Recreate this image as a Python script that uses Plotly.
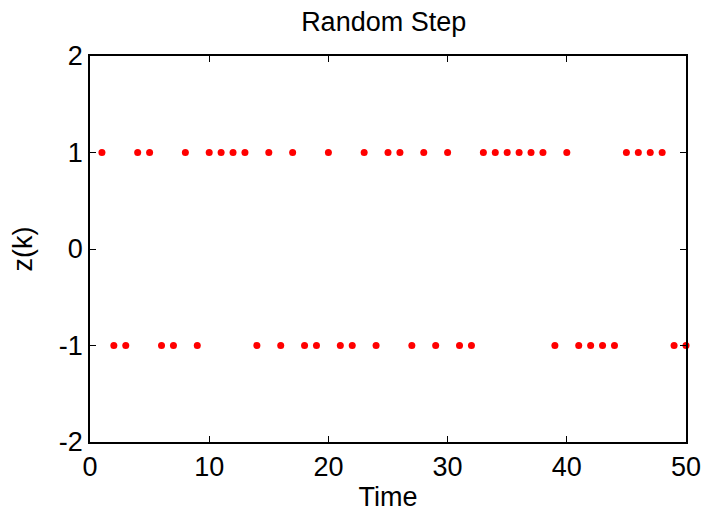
import plotly.graph_objects as go

time_k = list(range(1, 51))
z_values = [1, -1, -1, 1, 1, -1, -1, 1, -1, 1,
            1, 1, 1, -1, 1, -1, 1, -1, -1, 1,
            -1, -1, 1, -1, 1, 1, -1, 1, -1, 1,
            -1, -1, 1, 1, 1, 1, 1, 1, -1, 1,
            -1, -1, -1, -1, 1, 1, 1, 1, -1, -1]
x_ticks = [0, 10, 20, 30, 40, 50]
y_ticks = [-2, -1, 0, 1, 2]
y_tick_labels = ["-2", "-1", "0", "1", "2"]

FONT = "Liberation Sans, Arial"

fig = go.Figure(go.Scatter(
    x=time_k, y=z_values, mode="markers",
    marker=dict(color="#ff0000", size=7, line=dict(width=0)),
    cliponaxis=False,
))

axis_common = dict(
    showgrid=False, zeroline=False, showline=True, linecolor="black", linewidth=1.5,
    mirror="ticks", ticks="inside", ticklen=6, tickcolor="black", tickwidth=1,
    tickfont=dict(family=FONT, size=27, color="black"), automargin=False,
)
fig.update_xaxes(range=[0, 50], tickvals=x_ticks,
                 title=dict(text="Time", font=dict(family=FONT, size=27, color="black"), standoff=7),
                 **axis_common)
fig.update_yaxes(range=[-2, 2], tickvals=y_ticks, ticktext=y_tick_labels,
                 title=dict(text="z(k)", font=dict(family=FONT, size=27, color="black"), standoff=18),
                 **axis_common)
fig.update_layout(
    width=704, height=512,
    margin=dict(l=90, r=18, t=56, b=70),
    paper_bgcolor="white", plot_bgcolor="white",
    title=dict(text="Random Step", x=0.545, xanchor="center", y=0.957, yanchor="middle",
               font=dict(family=FONT, size=27, color="black")),
    showlegend=False,
)
fig.write_html("out.html", config={"displayModeBar": False},
               post_script="document.body.style.margin='0px';")
